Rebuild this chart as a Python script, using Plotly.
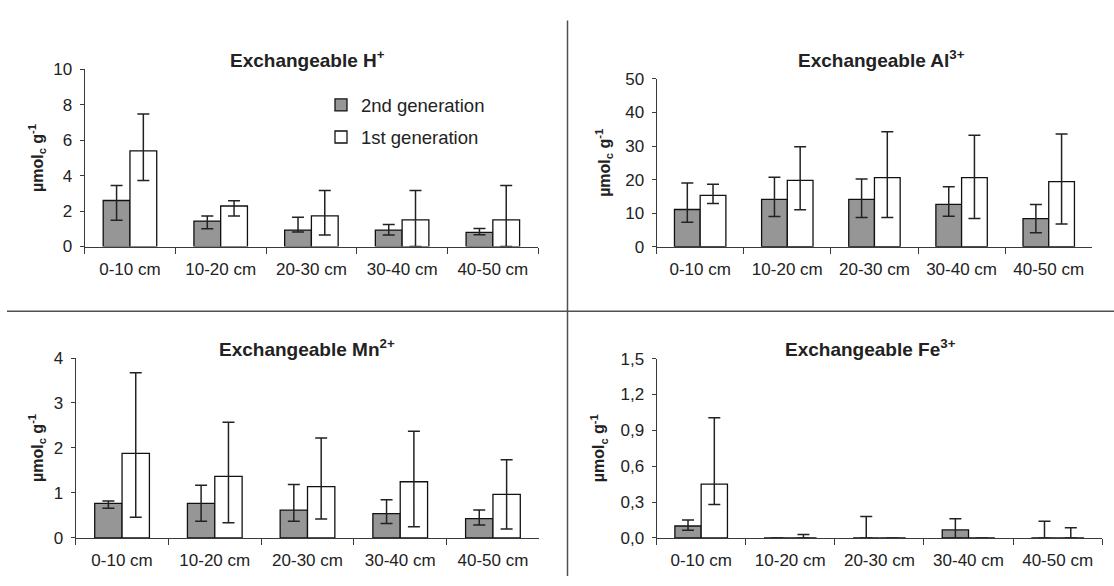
import plotly.graph_objects as go

W, H = 1114, 586

categories = ["0-10 cm", "10-20 cm", "20-30 cm", "30-40 cm", "40-50 cm"]
series_names = ["2nd generation", "1st generation"]

# Exchangeable H+
h_2nd = [2.6, 1.44, 0.93, 0.93, 0.8]
h_2nd_up = [0.85, 0.29, 0.72, 0.31, 0.22]
h_2nd_dn = [1.11, 0.44, 0.11, 0.28, 0.13]
h_1st = [5.4, 2.29, 1.73, 1.51, 1.51]
h_1st_up = [2.09, 0.29, 1.43, 1.65, 1.94]
h_1st_dn = [1.67, 0.56, 1.08, 1.51, 1.51]

# Exchangeable Al3+
al_2nd = [11.1, 14.1, 14.1, 12.6, 8.4]
al_2nd_up = [7.9, 6.6, 6.1, 5.3, 4.2]
al_2nd_dn = [3.8, 5.1, 5.35, 3.5, 4.2]
al_1st = [15.3, 19.8, 20.6, 20.6, 19.4]
al_1st_up = [3.35, 10.0, 13.7, 12.6, 14.2]
al_1st_dn = [2.4, 8.74, 11.85, 12.2, 12.6]

# Exchangeable Mn2+
mn_2nd = [0.77, 0.77, 0.62, 0.54, 0.43]
mn_2nd_up = [0.05, 0.40, 0.57, 0.31, 0.19]
mn_2nd_dn = [0.11, 0.40, 0.25, 0.22, 0.14]
mn_1st = [1.88, 1.37, 1.14, 1.25, 0.97]
mn_1st_up = [1.79, 1.20, 1.08, 1.12, 0.77]
mn_1st_dn = [1.42, 1.03, 0.72, 1.00, 0.77]

# Exchangeable Fe3+
fe_2nd = [0.10, 0.0, 0.0, 0.067, 0.0]
fe_2nd_up = [0.05, 0.0, 0.18, 0.093, 0.14]
fe_2nd_dn = [0.035, 0.0, 0.0, 0.067, 0.0]
fe_1st = [0.45, 0.0, 0.0, 0.0, 0.0]
fe_1st_up = [0.556, 0.03, 0.0, 0.0, 0.086]
fe_1st_dn = [0.17, 0.0, 0.0, 0.0, 0.0]

titles = ["Exchangeable H<sup>+</sup>", "Exchangeable Al<sup>3+</sup>",
          "Exchangeable Mn<sup>2+</sup>", "Exchangeable Fe<sup>3+</sup>"]
y_ranges = [[0, 10], [0, 50], [0, 4], [0, 1.5]]
y_dticks = [2, 10, 1, 0.3]
y_formats = ["d", "d", "d", ".1f"]

# panel pixel boxes: x0, x1, ytop, ybottom
boxes = [(84.6, 538.2, 62.5, 245.5), (656.6, 1092.3, 72.3, 245.7),
         (75.7, 539.3, 360.7, 546.7), (656.6, 1102.2, 361.3, 546.7)]
title_pos = [(307, 52), (881, 52), (307, 350), (870.5, 350)]
ytitle_x = [37, 604, 37, 599]

data = [
    (h_2nd, h_2nd_up, h_2nd_dn, h_1st, h_1st_up, h_1st_dn),
    (al_2nd, al_2nd_up, al_2nd_dn, al_1st, al_1st_up, al_1st_dn),
    (mn_2nd, mn_2nd_up, mn_2nd_dn, mn_1st, mn_1st_up, mn_1st_dn),
    (fe_2nd, fe_2nd_up, fe_2nd_dn, fe_1st, fe_1st_up, fe_1st_dn),
]

FONT = "Liberation Sans, Arial, sans-serif"
AX = "#3a3a3a"
TXT = "#222222"
fills = ["#969696", "#ffffff"]

fig = go.Figure()
annotations = []
layout_axes = {}

for i, (d, box, tp, ytx) in enumerate(zip(data, boxes, title_pos, ytitle_x)):
    k = "" if i == 0 else str(i + 1)
    v2, u2, l2, v1, u1, l1 = d
    for j, (vals, up, dn) in enumerate([(v2, u2, l2), (v1, u1, l1)]):
        fig.add_trace(go.Bar(
            x=categories, y=vals, name=series_names[j],
            xaxis="x" + k, yaxis="y" + k,
            marker=dict(color=fills[j], line=dict(color="#111111", width=1.3)),
            error_y=dict(type="data", symmetric=False, array=up, arrayminus=dn,
                         color="#222222", thickness=1.5, width=6),
            showlegend=(i == 0), legendgroup=series_names[j],
        ))
    x0, x1, yt, yb = box
    layout_axes["xaxis" + k] = dict(
        domain=[x0 / W, x1 / W], anchor="y" + k, type="category",
        showline=True, linecolor=AX, linewidth=1.2, ticks="outside",
        tickson="boundaries", ticklen=6, tickcolor=AX, tickwidth=1.2,
        showgrid=False, zeroline=False, ticklabelstandoff=7,
        tickfont=dict(family=FONT, size=17, color=TXT), fixedrange=True,
    )
    layout_axes["yaxis" + k] = dict(
        domain=[1 - yb / H, 1 - yt / H], anchor="x" + k,
        range=y_ranges[i], dtick=y_dticks[i], tick0=0, tickformat=y_formats[i],
        showline=True, linecolor=AX, linewidth=1.2, ticks="outside",
        ticklen=4, tickcolor=AX, tickwidth=1.2, showgrid=False, zeroline=False,
        ticklabelstandoff=4,
        tickfont=dict(family=FONT, size=17, color=TXT), fixedrange=True,
    )
    annotations.append(dict(
        text="<b>" + titles[i] + "</b>", x=tp[0] / W, y=1 - tp[1] / H,
        xref="paper", yref="paper", showarrow=False, xanchor="center",
        yanchor="middle", font=dict(family=FONT, size=19, color=TXT)))
    annotations.append(dict(
        text="<b>µmol<sub>c</sub> g<sup>-1</sup></b>", x=ytx / W,
        y=1 - (yt + yb) / 2 / H, xref="paper", yref="paper", showarrow=False,
        textangle=-90, xanchor="center", yanchor="middle",
        font=dict(family=FONT, size=16, color=TXT)))

shapes = [
    dict(type="line", xref="paper", yref="paper", x0=567.5 / W, x1=567.5 / W,
         y0=1 - 12 / H, y1=0, line=dict(color="#505050", width=1.5)),
    dict(type="line", xref="paper", yref="paper", x0=7 / W, x1=1,
         y0=1 - 312.3 / H, y1=1 - 312.3 / H, line=dict(color="#505050", width=1.5)),
]

fig.update_layout(
    width=W, height=H, margin=dict(l=0, r=0, t=0, b=0),
    paper_bgcolor="white", plot_bgcolor="white",
    barmode="group", bargap=0.41, bargroupgap=0,
    separators=",.",
    font=dict(family=FONT, color=TXT),
    showlegend=True,
    legend=dict(x=321 / W, y=1 - 80 / H, xanchor="left", yanchor="top",
                bgcolor="rgba(0,0,0,0)", traceorder="grouped",
                tracegroupgap=5, font=dict(family=FONT, size=18.5, color=TXT)),
    annotations=annotations, shapes=shapes,
    **layout_axes,
)

fig.write_html("out.html")
